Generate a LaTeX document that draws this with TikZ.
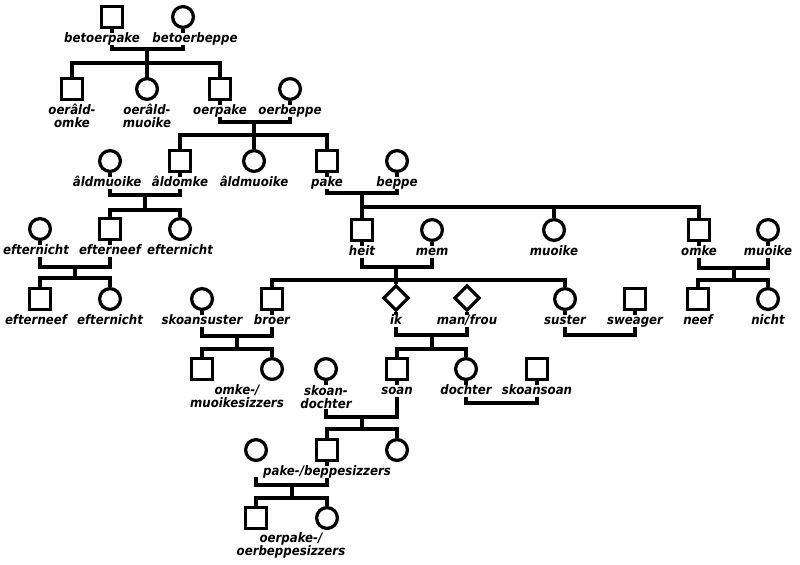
\documentclass[tikz,border=0pt]{standalone}
\usepackage{fontspec}
\newfontfamily\lblfont{DejaVu Sans Condensed}
\usetikzlibrary{positioning,shapes.geometric}
\tikzset{
  pers/.style={draw, line width=2.3pt, inner sep=0pt, minimum size=0.52cm},
  male/.style={pers, rectangle},
  female/.style={pers, circle},
  anyone/.style={pers, diamond, minimum size=0.64cm},
  lbl/.style={fill=white, inner sep=0pt, text height=0.24cm, text depth=0.06cm, align=center,
    font=\lblfont\bfseries\itshape\fontsize{9.3}{9.4}\selectfont},
  lblii/.style={lbl, text height=, text depth=},
  link/.style={line width=2.3pt}
}
\begin{document}
\begin{tikzpicture}[x=0.025cm, y=-0.025cm]
  \useasboundingbox (0,0) rectangle (800,564);
  % persons
  \node[male] (betoerpake) at (112,17) {};
  \node[female] (betoerbeppe) at (183,17) {};
  \node[male] (oeraldomke) at (72,89) {};
  \node[female] (oeraldmuoike) at (147,89) {};
  \node[male] (oerpake) at (220,89) {};
  \node[female] (oerbeppe) at (290,89) {};
  \node[female] (aldmuoike1) at (110,161) {};
  \node[male] (aldomke) at (180,161) {};
  \node[female] (aldmuoike2) at (254,161) {};
  \node[male] (pake) at (327,161) {};
  \node[female] (beppe) at (397,161) {};
  \node[female] (efternicht1) at (40,229) {};
  \node[male] (efterneef1) at (110,229) {};
  \node[female] (efternicht2) at (180,229) {};
  \node[male] (heit) at (362,230) {};
  \node[female] (mem) at (432,230) {};
  \node[female] (muoike1) at (554,230) {};
  \node[male] (omke) at (699,230) {};
  \node[female] (muoike2) at (768,230) {};
  \node[male] (efterneef2) at (40,299) {};
  \node[female] (efternicht3) at (110,299) {};
  \node[female] (skoansuster) at (202,299) {};
  \node[male] (broer) at (272,299) {};
  \node[anyone] (ik) at (396,298) {};
  \node[anyone] (manfrou) at (467,298) {};
  \node[female] (suster) at (565,299) {};
  \node[male] (sweager) at (635,299) {};
  \node[male] (neef) at (698,299) {};
  \node[female] (nicht) at (768,299) {};
  \node[male] (sizzer1) at (202,369) {};
  \node[female] (sizzer2) at (272,369) {};
  \node[female] (skoandochter) at (326,369) {};
  \node[male] (soan) at (397,369) {};
  \node[female] (dochter) at (466,369) {};
  \node[male] (skoansoan) at (537,369) {};
  \node[female] (partner) at (256,450) {};
  \node[male] (pbsizzer1) at (327,450) {};
  \node[female] (pbsizzer2) at (397,450) {};
  \node[male] (oesizzer1) at (256,518) {};
  \node[female] (oesizzer2) at (327,518) {};
  \coordinate (partner-l) at (256,477);
  % couple and sibling bars
  \coordinate (m1) at (147,49);  \coordinate (s1) at (147,63);
  \coordinate (m2) at (254,122); \coordinate (s2) at (254,135);
  \coordinate (m3) at (145,195); \coordinate (s3) at (145,210);
  \coordinate (m4) at (75,267);  \coordinate (s4) at (75,278);
  \coordinate (m5) at (362,193); \coordinate (s5) at (362,207);
  \coordinate (m6) at (396,267); \coordinate (s6) at (396,280);
  \coordinate (m7) at (734,268); \coordinate (s7) at (734,280);
  \coordinate (m8) at (237,336); \coordinate (s8) at (237,349);
  \coordinate (m9) at (432,335); \coordinate (s9) at (432,349);
  \coordinate (m10) at (600,335);
  \coordinate (m11) at (501,403);
  \coordinate (m12) at (362,417); \coordinate (s12) at (362,429);
  \coordinate (m13) at (292,485); \coordinate (s13) at (292,498);
  \draw[link] (betoerpake) |- (m1) -| (betoerbeppe);
  \draw[link] (m1) -- (oeraldmuoike);
  \draw[link] (oeraldomke) |- (s1) -| (oerpake);
  \draw[link] (oerpake) |- (m2) -| (oerbeppe);
  \draw[link] (m2) -- (aldmuoike2);
  \draw[link] (aldomke) |- (s2) -| (pake);
  \draw[link] (aldmuoike1) |- (m3) -| (aldomke);
  \draw[link] (m3) -- (s3);
  \draw[link] (efterneef1) |- (s3) -| (efternicht2);
  \draw[link] (efternicht1) |- (m4) -| (efterneef1);
  \draw[link] (m4) -- (s4);
  \draw[link] (efterneef2) |- (s4) -| (efternicht3);
  \draw[link] (pake) |- (m5) -| (beppe);
  \draw[link] (m5) -- (heit);
  \draw[link] (s5) -| (omke);
  \draw[link] (s5 -| muoike1) -- (muoike1);
  \draw[link] (heit) |- (m6) -| (mem);
  \draw[link] (m6) -- (ik);
  \draw[link] (broer) |- (s6) -| (suster);
  \draw[link] (omke) |- (m7) -| (muoike2);
  \draw[link] (m7) -- (s7);
  \draw[link] (neef) |- (s7) -| (nicht);
  \draw[link] (skoansuster) |- (m8) -| (broer);
  \draw[link] (m8) -- (s8);
  \draw[link] (sizzer1) |- (s8) -| (sizzer2);
  \draw[link] (ik) |- (m9) -| (manfrou);
  \draw[link] (m9) -- (s9);
  \draw[link] (soan) |- (s9) -| (dochter);
  \draw[link] (suster) |- (m10) -| (sweager);
  \draw[link] (dochter) |- (m11) -| (skoansoan);
  \draw[link] (skoandochter) |- (m12) -| (soan);
  \draw[link] (m12) -- (s12);
  \draw[link] (pbsizzer1) |- (s12) -| (pbsizzer2);
  \draw[link] (partner-l) |- (m13) -| (pbsizzer1);
  \draw[link] (m13) -- (s13);
  \draw[link] (oesizzer1) |- (s13) -| (oesizzer2);
  % labels
  \node[lbl, below=0.1cm of betoerpake, xshift=-0.25cm] (betoerpake-l) {betoerpake};
  \node[lbl, below=0.1cm of betoerbeppe, xshift=0.3cm] (betoerbeppe-l) {betoerbeppe};
  \node[lblii, below=0.07cm of oeraldomke] (oeraldomke-l) {oerâld-\\omke};
  \node[lblii, below=0.07cm of oeraldmuoike] (oeraldmuoike-l) {oerâld-\\muoike};
  \node[lbl, below=0.1cm of oerpake] (oerpake-l) {oerpake};
  \node[lbl, below=0.1cm of oerbeppe] (oerbeppe-l) {oerbeppe};
  \node[lbl, below=0.1cm of aldmuoike1, xshift=-0.07cm] (aldmuoike1-l) {âldmuoike};
  \node[lbl, below=0.1cm of aldomke] (aldomke-l) {âldomke};
  \node[lbl, below=0.1cm of aldmuoike2] (aldmuoike2-l) {âldmuoike};
  \node[lbl, below=0.1cm of pake] (pake-l) {pake};
  \node[lbl, below=0.1cm of beppe] (beppe-l) {beppe};
  \node[lbl, below=0.1cm of efternicht1, xshift=-0.1cm] (efternicht1-l) {efternicht};
  \node[lbl, below=0.1cm of efterneef1] (efterneef1-l) {efterneef};
  \node[lbl, below=0.1cm of efternicht2] (efternicht2-l) {efternicht};
  \node[lbl, below=0.1cm of heit] (heit-l) {heit};
  \node[lbl, below=0.1cm of mem] (mem-l) {mem};
  \node[lbl, below=0.1cm of muoike1] (muoike1-l) {muoike};
  \node[lbl, below=0.1cm of omke] (omke-l) {omke};
  \node[lbl, below=0.1cm of muoike2] (muoike2-l) {muoike};
  \node[lbl, below=0.1cm of efterneef2, xshift=-0.1cm] (efterneef2-l) {efterneef};
  \node[lbl, below=0.1cm of efternicht3] (efternicht3-l) {efternicht};
  \node[lbl, below=0.1cm of skoansuster] (skoansuster-l) {skoansuster};
  \node[lbl, below=0.1cm of broer] (broer-l) {broer};
  \node[lbl, below=0.05cm of ik] (ik-l) {ik};
  \node[lbl, below=0.05cm of manfrou] (manfrou-l) {man/frou};
  \node[lbl, below=0.1cm of suster] (suster-l) {suster};
  \node[lbl, below=0.1cm of sweager] (sweager-l) {sweager};
  \node[lbl, below=0.1cm of neef] (neef-l) {neef};
  \node[lbl, below=0.1cm of nicht] (nicht-l) {nicht};
  \node[lblii, anchor=north] (sizzer-l) at (237,384) {omke-/\\muoikesizzers};
  \node[lblii, below=0.1cm of skoandochter] (skoandochter-l) {skoan-\\dochter};
  \node[lbl, below=0.1cm of soan] (soan-l) {soan};
  \node[lbl, below=0.1cm of dochter] (dochter-l) {dochter};
  \node[lbl, below=0.1cm of skoansoan] (skoansoan-l) {skoansoan};
  \node[lbl, below=0.1cm of pbsizzer1] (pbsizzer1-l) {pake-/beppesizzers};
  \node[lblii, anchor=north] (oesizzer-l) at (291,532) {oerpake-/\\oerbeppesizzers};
\end{tikzpicture}
\end{document}
